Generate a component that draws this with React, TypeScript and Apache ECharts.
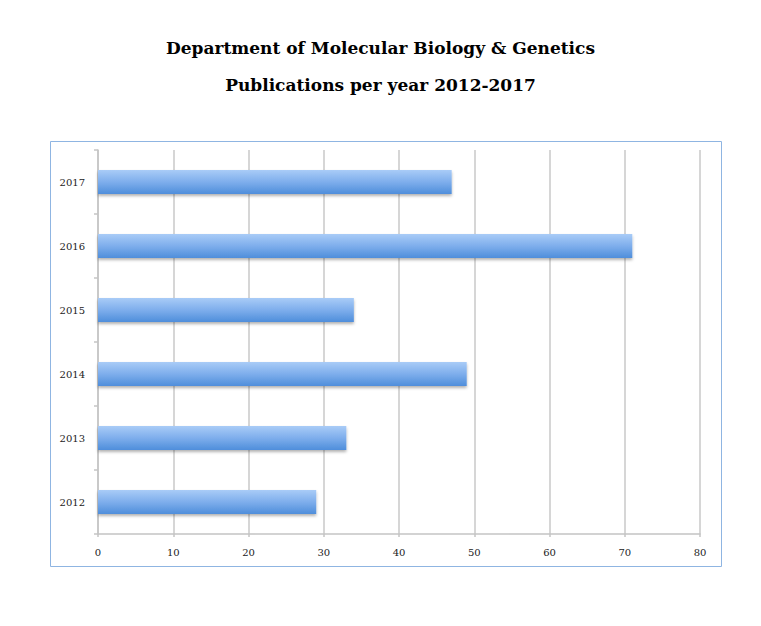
import React, { useEffect, useRef } from "react";
import * as echarts from "echarts";

const years = ["2012", "2013", "2014", "2015", "2016", "2017"];
const publications = [29, 33, 49, 34, 71, 47];
const xTicks = [0, 10, 20, 30, 40, 50, 60, 70, 80];
const titleLines = ["Department of Molecular Biology & Genetics", "Publications per year 2012-2017"];

export default function App() {
  const ref = useRef<HTMLDivElement>(null);
  useEffect(() => {
    if (!ref.current) return;
    const chart = echarts.init(ref.current, null, { renderer: "svg" });
    chart.setOption({
      animation: false,
      backgroundColor: "#ffffff",
      title: {
        text: titleLines.join("\n"),
        left: "center",
        top: 24,
        textStyle: {
          fontFamily: "DejaVu Serif",
          fontWeight: "bold",
          fontSize: 17,
          lineHeight: 37,
          color: "#000",
        },
      },
      graphic: [
        {
          type: "rect",
          shape: { x: 50.5, y: 141.5, width: 671, height: 425 },
          style: { fill: "none", stroke: "#8fb5e2", lineWidth: 1 },
          silent: true,
        },
      ],
      grid: { left: 98, right: 61, top: 150, bottom: 92 },
      xAxis: {
        type: "value",
        min: xTicks[0],
        max: xTicks[xTicks.length - 1],
        interval: 10,
        axisLine: { show: true, lineStyle: { color: "#c4c4c4", width: 1.5 } },
        axisTick: { show: true, length: 3, lineStyle: { color: "#c4c4c4", width: 1.5 } },
        splitLine: { show: true, lineStyle: { color: "#c8c8c8", width: 1.5 } },
        axisLabel: {
          fontFamily: "DejaVu Serif",
          fontSize: 10,
          color: "#222",
          margin: 13,
        },
      },
      yAxis: {
        type: "category",
        data: years,
        axisLine: { show: true, lineStyle: { color: "#c4c4c4", width: 1.5 } },
        axisTick: { show: true, length: 4, lineStyle: { color: "#c4c4c4", width: 1.5 } },
        axisLabel: {
          fontFamily: "DejaVu Serif",
          fontSize: 10,
          color: "#222",
          margin: 13,
        },
      },
      series: [
        {
          type: "bar",
          data: publications,
          barWidth: 24,
          itemStyle: {
            color: new echarts.graphic.LinearGradient(0, 0, 0, 1, [
              { offset: 0, color: "#a9ccf7" },
              { offset: 0.5, color: "#7eaeec" },
              { offset: 1, color: "#4f8edb" },
            ]),
            shadowColor: "rgba(0,0,0,0.3)",
            shadowBlur: 3,
            shadowOffsetY: 2,
          },
        },
      ],
    });
    return () => chart.dispose();
  }, []);
  return (
    <div
      ref={ref}
      style={{ position: "fixed", left: 0, top: 0, width: 761, height: 626 }}
    />
  );
}
